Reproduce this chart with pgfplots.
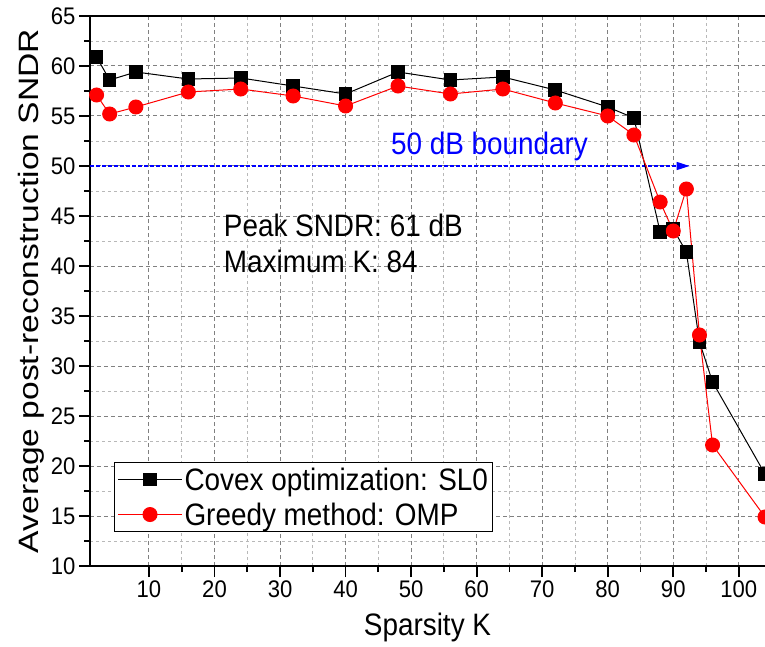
\documentclass[border=0pt]{standalone}
\usepackage{fontspec}
\setmainfont{Liberation Sans}[FakeStretch=0.9]
\newfontfamily\ylabfont{Liberation Sans}[FakeStretch=1.2]
\newfontfamily\tickfont{Liberation Sans}[FakeStretch=0.92]
\usepackage{pgfplots}
\pgfplotsset{compat=1.18}
\usetikzlibrary{arrows.meta}
\pgfplotstableread{
K SNDR
2 60.9
4 58.6
8 59.4
16 58.7
24 58.8
32 58.0
40 57.2
48 59.4
56 58.6
64 58.9
72 57.6
80 55.9
84 54.8
88 43.4
90 43.7
92 41.4
94 32.4
96 28.4
104 19.2
}\slzero
\pgfplotstableread{
K SNDR
2 57.1
4 55.2
8 55.9
16 57.4
24 57.7
32 57.0
40 56.0
48 58.0
56 57.2
64 57.7
72 56.3
80 55.0
84 53.1
88 46.4
90 43.5
92 47.7
94 33.1
96 22.1
104 14.9
}\omp
\begin{document}
\begin{tikzpicture}
\path[use as bounding box] (-90pt,-80pt) rectangle (675pt,566pt);
\begin{axis}[name=ax, at={(0pt,0pt)}, anchor=south west,
  scale only axis, width=675pt, height=550pt,
  xmin=1, xmax=104, ymin=10, ymax=65,
  axis x line*=bottom, axis y line*=left,
  axis line style={-, line width=2.2pt, black},
  xtick={10,20,...,100}, ytick={10,15,...,65},
  minor x tick num=1, minor y tick num=1,
  tick align=outside, major tick length=11pt, minor tick length=6pt,
  tick style={black, line width=1.8pt},
  grid=both,
  major grid style={black!50, dash pattern=on 4pt off 3pt, line width=1pt},
  minor grid style={black!28, dash pattern=on 3pt off 3pt, line width=0.9pt},
  /pgf/number format/assume math mode=true,
  tick label style={font=\tickfont\fontsize{24}{26}\selectfont},
  xlabel={Sparsity K}, ylabel={Average post-reconstruction SNDR},
  xlabel style={font=\fontsize{31}{34}\selectfont, at={(axis description cs:0.5,-0.1255)}, anchor=base},
  ylabel style={font=\ylabfont\fontsize{28}{30}\selectfont, at={(axis description cs:-0.077,0.5)}, anchor=base},
  legend style={at={(axis description cs:0.0356,0.0618)}, anchor=south west,
    draw=black, line width=1pt, fill=white, font=\fontsize{31}{34}\selectfont,
    inner xsep=3pt, inner ysep=3pt, row sep=7pt},
  legend cell align=left,
  legend image code/.code={\draw[mark repeat=2,mark phase=2,#1] plot coordinates {(0pt,0pt) (32pt,0pt) (64pt,0pt)};},
]
\addplot[blue, line width=1.3pt, dash pattern=on 4pt off 2pt, -{Triangle[length=13pt,width=8pt]}, forget plot] coordinates {(1,50) (92.5,50)};
\addplot[black, line width=1pt, mark=square*, mark size=6.3pt, mark options={solid, fill=black}] table[x=K,y=SNDR] {\slzero};
\addlegendentry{Covex optimization: SL0}
\addplot[red, line width=1pt, mark=*, mark size=7pt, mark options={solid, fill=red}] table[x=K,y=SNDR] {\omp};
\addlegendentry{Greedy method: OMP}
\node[anchor=base west, inner sep=0pt, font=\fontsize{31}{34}\selectfont, text=blue] at (axis cs:46.9,51.1) {50 dB boundary};
\node[anchor=base west, inner sep=0pt, font=\fontsize{31}{34}\selectfont] at (axis cs:21.4,43.0) {Peak SNDR: 61 dB};
\node[anchor=base west, inner sep=0pt, font=\fontsize{31}{34}\selectfont] at (axis cs:21.4,39.4) {Maximum K: 84};
\end{axis}
\draw[line width=2.2pt] (ax.north west) -- (ax.north east);
\end{tikzpicture}
\end{document}
